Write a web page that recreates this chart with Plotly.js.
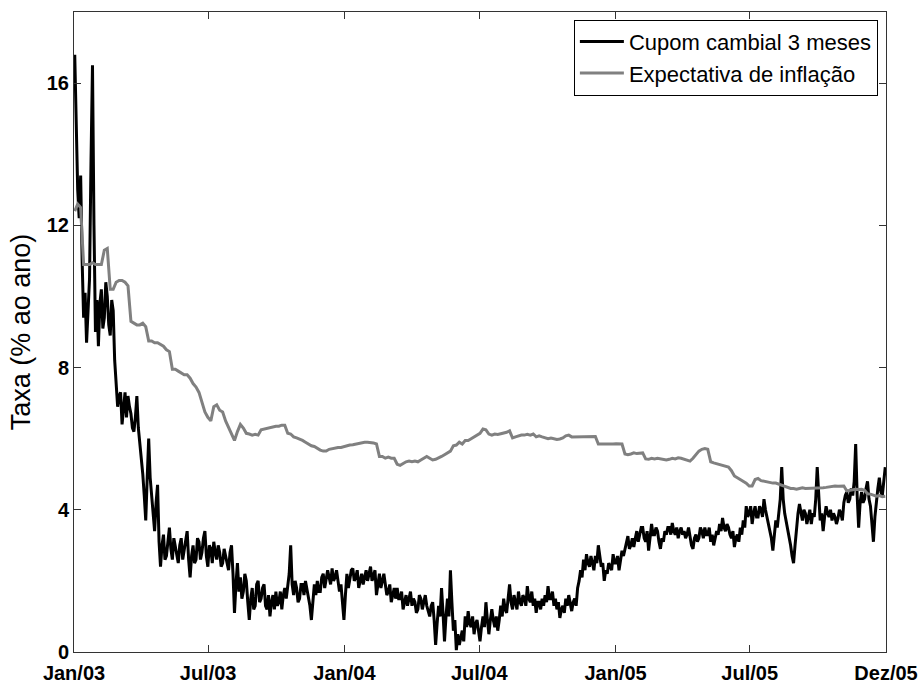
<!DOCTYPE html>
<html>
<head>
<meta charset="utf-8">
<script src="https://cdn.plot.ly/plotly-3.0.1.min.js"></script>
<style>
  html, body { margin: 0; padding: 0; background: #fff; }
  #chart { width: 924px; height: 684px; }
</style>
</head>
<body>
<div id="chart"></div>
<script>
// Observation window: samples are evenly spread from the first to the last date
const startDate = '2003-01-02';
const endDate = '2005-12-31';

// Cupom cambial 3 meses (% ao ano)
const cupomCambial = [
  16.8, 14.6, 13.0, 12.2, 13.4, 11.0, 9.4, 10.1, 8.7, 9.6,
  10.5, 13.8, 16.5, 12.0, 9.0, 9.9, 8.6, 9.8, 10.2, 9.1,
  9.4, 10.4, 10.0, 9.2, 8.9, 9.9, 9.6, 8.2, 7.4, 6.9,
  7.2, 7.3, 6.4, 6.9, 7.3, 6.6, 7.2, 6.9, 6.7, 6.3,
  6.2, 6.6, 7.2, 6.3, 5.9, 5.4, 5.0, 4.4, 3.7, 4.9,
  6.0, 4.9, 4.3, 3.9, 3.4, 4.2, 4.7, 3.1, 2.4, 3.0,
  3.3, 2.6, 2.7, 3.1, 3.5, 2.9, 2.6, 3.2, 3.0, 2.7,
  2.5, 3.0, 3.2, 2.6, 2.9, 3.1, 3.4, 2.6, 2.1, 2.7,
  3.0, 2.5, 2.6, 3.2, 3.1, 2.6, 2.8, 3.2, 3.4, 2.7,
  2.4, 3.0, 2.9, 2.5, 3.1, 2.8, 2.6, 3.0, 2.8, 2.4,
  2.5, 2.9, 2.7, 2.4, 2.3, 2.8, 3.0, 2.2, 1.1, 1.9,
  2.5, 1.7, 2.1, 1.5, 1.7, 2.2, 2.0, 1.4, 0.9, 1.5,
  1.8, 1.2, 1.3, 1.9, 2.0, 1.4, 1.5, 1.8, 1.9, 1.3,
  1.2, 1.6, 1.0, 1.4, 1.6, 1.2, 1.7, 1.3, 1.4, 1.7,
  1.2, 1.6, 1.8, 1.5, 1.9, 2.2, 3.0, 1.9, 1.6, 2.0,
  1.8, 1.4, 1.5, 1.9, 1.9, 1.6, 2.0, 1.8, 1.6, 1.3,
  0.9, 1.5, 1.9, 1.6, 2.0, 1.7, 1.7, 2.1, 2.2, 1.8,
  2.0, 2.3, 2.1, 1.9, 2.35, 2.0, 2.1, 2.3, 2.0, 1.7,
  1.9, 1.5, 0.9, 1.6, 2.2, 1.8, 2.0, 2.3, 2.35, 2.0,
  2.1, 2.3, 1.8, 2.0, 2.2, 1.9, 2.1, 2.3, 2.0, 2.2,
  2.4, 2.0, 2.2, 2.3, 1.6, 2.0, 2.2, 1.8, 2.0, 2.2,
  1.9, 1.6, 1.7, 1.9, 1.4, 1.6, 1.8, 1.5, 1.8, 1.5,
  1.5, 1.7, 1.2, 1.4, 1.6, 1.3, 1.5, 1.7, 1.3, 1.5,
  1.4, 1.1, 1.2, 1.6, 1.5, 1.2, 1.4, 1.6, 1.3, 1.1,
  1.0, 1.3, 1.4, 0.9, 0.2, 0.8, 1.3, 1.0, 1.8, 1.1,
  0.3, 1.0, 1.5, 1.0, 2.3, 1.4, 0.6, 0.9, 0.05, 0.5,
  0.2, 0.4, 0.6, 0.3, 1.0, 0.7, 1.15, 0.8, 0.7, 1.0,
  0.5, 0.8, 0.9, 0.6, 0.3, 0.7, 1.0, 0.7, 1.4, 0.9,
  0.5, 0.9, 1.2, 0.9, 0.7, 1.0, 0.6, 0.9, 1.3, 1.0,
  1.5, 1.2, 1.1, 1.5, 1.9, 1.4, 1.2, 1.6, 1.4, 1.2,
  1.7, 1.4, 1.3, 1.6, 1.5, 1.3, 1.85, 1.5, 1.4, 1.7,
  1.3, 1.5, 1.1, 1.4, 1.4, 1.2, 1.5, 1.3, 1.6, 1.4,
  1.85, 1.5, 1.5, 1.7, 1.3, 1.5, 1.2, 1.4, 0.96, 1.2,
  1.3, 1.1, 1.5, 1.3, 1.6, 1.4, 1.15, 1.4, 1.5, 1.3,
  1.8, 2.0, 2.3, 2.1, 2.6, 2.3, 2.75, 2.5, 2.4, 2.7,
  2.5, 2.3, 2.7, 2.5, 3.0, 2.7, 2.4, 2.5, 2.0, 2.3,
  2.2, 2.5, 2.4, 2.3, 2.75, 2.5, 2.5, 2.7, 2.3, 2.6,
  2.85, 2.7, 2.9, 3.1, 3.26, 2.9, 3.0, 3.2, 2.95, 3.2,
  3.4, 3.1, 3.3, 3.5, 3.5, 3.2, 3.1, 3.4, 2.85, 3.2,
  3.6, 3.3, 3.3, 3.5, 3.4, 3.1, 2.9, 3.2, 3.1, 3.4,
  3.3, 3.5, 3.5, 3.3, 3.63, 3.4, 3.3, 3.5, 3.2, 3.4,
  3.5, 3.3, 3.4, 3.2, 3.3, 3.5, 3.2, 3.0, 2.9, 3.2,
  3.3, 3.1, 3.2, 3.5, 3.4, 3.2, 3.5, 3.3, 3.3, 3.5,
  3.1, 3.3, 3.0, 3.2, 3.4, 3.3, 3.6, 3.4, 3.77, 3.5,
  3.4, 3.6, 3.5, 3.3, 3.2, 3.4, 2.95, 3.2, 3.3, 3.1,
  3.5, 3.3, 3.7, 3.5, 4.1, 3.8, 3.9, 4.1, 3.6, 3.9,
  4.1, 3.8, 3.8, 4.1, 4.0, 3.8, 4.3, 4.0, 3.8, 3.6,
  3.5, 3.2, 2.85, 3.3, 3.7, 3.5, 4.0, 4.3, 5.2, 4.3,
  3.9, 3.7, 3.5, 3.3, 3.0, 2.7, 2.5, 3.0, 3.5, 3.9,
  4.16, 3.9, 3.7, 4.0, 3.9, 3.6, 3.8, 4.0, 3.6, 3.9,
  3.8, 4.3, 5.2, 4.2, 3.7, 3.9, 3.4, 3.8, 4.1, 3.9,
  3.8, 4.0, 3.7, 3.9, 3.8, 3.6, 3.75, 4.0, 3.9, 3.7,
  4.2, 4.4, 4.5, 4.2, 4.3, 4.6, 4.4, 4.8, 5.85, 4.4,
  3.5, 4.2, 4.5, 4.2, 4.3, 4.6, 4.8, 4.3, 4.1, 3.6,
  3.1, 3.8, 4.3, 4.6, 4.9, 4.5, 4.4, 4.8, 5.2
];

// Expectativa de inflação (% ao ano)
const expectativaInflacao = [
  12.4, 12.6, 12.5, 10.9, 10.9, 10.9, 10.95, 10.9, 10.9, 10.9,
  11.3, 11.35, 10.2, 10.2, 10.4, 10.45, 10.45, 10.4, 10.3, 9.3,
  9.25, 9.2, 9.2, 9.25, 9.15, 8.75, 8.75, 8.7, 8.7, 8.65,
  8.6, 8.5, 8.45, 7.95, 7.95, 7.9, 7.85, 7.8, 7.8, 7.7,
  7.55, 7.45, 7.3, 7.0, 6.75, 6.6, 6.5, 6.9, 6.95, 6.8,
  6.75, 6.5, 6.3, 6.1, 5.95, 6.2, 6.4, 6.3, 6.15, 6.13,
  6.1, 6.12, 6.1, 6.25, 6.27, 6.3, 6.3, 6.32, 6.35, 6.35,
  6.38, 6.38, 6.15, 6.13, 6.05, 6.02, 5.99, 5.95, 5.9, 5.85,
  5.8, 5.78, 5.72, 5.68, 5.65, 5.65, 5.7, 5.72, 5.75, 5.75,
  5.75, 5.78, 5.8, 5.82, 5.83, 5.85, 5.85, 5.88, 5.9, 5.9,
  5.9, 5.88, 5.85, 5.5, 5.5, 5.45, 5.48, 5.45, 5.45, 5.28,
  5.25, 5.3, 5.35, 5.37, 5.35, 5.37, 5.35, 5.4, 5.45, 5.5,
  5.45, 5.4, 5.42, 5.45, 5.5, 5.55, 5.6, 5.65, 5.8, 5.82,
  5.9, 5.85, 5.95, 5.95, 6.0, 6.05, 6.08, 6.15, 6.27, 6.25,
  6.13, 6.1, 6.13, 6.12, 6.14, 6.15, 6.18, 6.22, 6.02, 6.05,
  6.08, 6.1, 6.1, 6.12, 6.1, 6.13, 6.05, 6.08, 6.05, 6.02,
  6.0, 6.02, 5.99, 5.98, 5.99, 6.02, 6.08, 6.1, 6.05, 6.05,
  6.07, 6.06, 6.07, 6.05, 6.06, 6.05, 6.06, 5.85, 5.85, 5.83,
  5.85, 5.84, 5.85, 5.86, 5.85, 5.85, 5.57, 5.55, 5.57, 5.6,
  5.58, 5.6, 5.6, 5.43, 5.42, 5.45, 5.43, 5.45, 5.44, 5.43,
  5.4, 5.42, 5.45, 5.43, 5.46, 5.45, 5.42, 5.38, 5.37, 5.45,
  5.55, 5.65, 5.7, 5.72, 5.7, 5.35, 5.32, 5.3, 5.28, 5.25,
  5.22, 5.2, 5.1, 4.95, 4.9, 4.85, 4.8, 4.75, 4.67, 4.67,
  4.85, 4.88, 4.82, 4.8, 4.78, 4.77, 4.75, 4.75, 4.72, 4.68,
  4.65, 4.63, 4.6, 4.6, 4.58, 4.6, 4.62, 4.6, 4.6, 4.6,
  4.6, 4.6, 4.6, 4.62, 4.63, 4.65, 4.67, 4.67, 4.66, 4.67,
  4.67, 4.53, 4.55, 4.57, 4.58, 4.57, 4.58, 4.55, 4.45, 4.44,
  4.4, 4.38, 4.4, 4.37, 4.38
];

// Axis ticks
const xTickVals = ['2003-01-01', '2003-07-01', '2004-01-01', '2004-07-01', '2005-01-01', '2005-07-01', '2006-01-01'];
const xTickText = ['Jan/03', 'Jul/03', 'Jan/04', 'Jul/04', 'Jan/05', 'Jul/05', 'Dez/05'];
const yTickVals = [0, 4, 8, 12, 16];

const seriesNames = ['Cupom cambial 3 meses', 'Expectativa de inflação'];

// Sample dates spread evenly over the observation window
function sampleDates(n) {
  const t0 = Date.parse(startDate + 'T00:00:00Z');
  const t1 = Date.parse(endDate + 'T00:00:00Z');
  const out = [];
  for (let i = 0; i < n; i++) {
    const t = new Date(t0 + (t1 - t0) * i / (n - 1));
    out.push(t.toISOString().slice(0, 19).replace('T', ' '));
  }
  return out;
}

const traces = [
  {
    type: 'scatter', mode: 'lines', name: seriesNames[0],
    x: sampleDates(cupomCambial.length), y: cupomCambial,
    line: { color: '#000000', width: 3 }
  },
  {
    type: 'scatter', mode: 'lines', name: seriesNames[1],
    x: sampleDates(expectativaInflacao.length), y: expectativaInflacao,
    line: { color: '#808080', width: 3 }
  }
];

const fontFamily = 'Liberation Sans, Arial, sans-serif';
const tickFont = { family: fontFamily, size: 20, weight: 'bold', color: '#000' };

const layout = {
  width: 924, height: 684,
  margin: { l: 74, r: 38, t: 12, b: 32, pad: 0 },
  paper_bgcolor: '#ffffff',
  plot_bgcolor: '#ffffff',
  showlegend: true,
  legend: {
    x: 0.99, xanchor: 'right', y: 0.988, yanchor: 'top',
    bgcolor: '#ffffff', bordercolor: '#000000', borderwidth: 1,
    font: { family: fontFamily, size: 22, color: '#000' },
    itemwidth: 44,
    tracegroupgap: 0
  },
  xaxis: {
    type: 'date',
    range: ['2003-01-01', '2006-01-01'],
    tickmode: 'array', tickvals: xTickVals, ticktext: xTickText,
    ticks: 'inside', ticklen: 7, tickwidth: 1, tickcolor: '#333',
    ticklabelstandoff: 3,
    showline: true, linecolor: '#333', linewidth: 1, mirror: 'ticks',
    showgrid: false, zeroline: false,
    tickfont: tickFont
  },
  yaxis: {
    range: [0, 18],
    tickmode: 'array', tickvals: yTickVals,
    ticks: 'inside', ticklen: 7, tickwidth: 1, tickcolor: '#333',
    showline: true, linecolor: '#333', linewidth: 1, mirror: 'ticks',
    showgrid: false, zeroline: false,
    tickfont: tickFont,
    title: {
      text: 'Taxa (% ao ano)',
      font: { family: fontFamily, size: 27, color: '#000' },
      standoff: 8
    }
  }
};

Plotly.newPlot('chart', traces, layout, { displayModeBar: false, staticPlot: true });
</script>
</body>
</html>
